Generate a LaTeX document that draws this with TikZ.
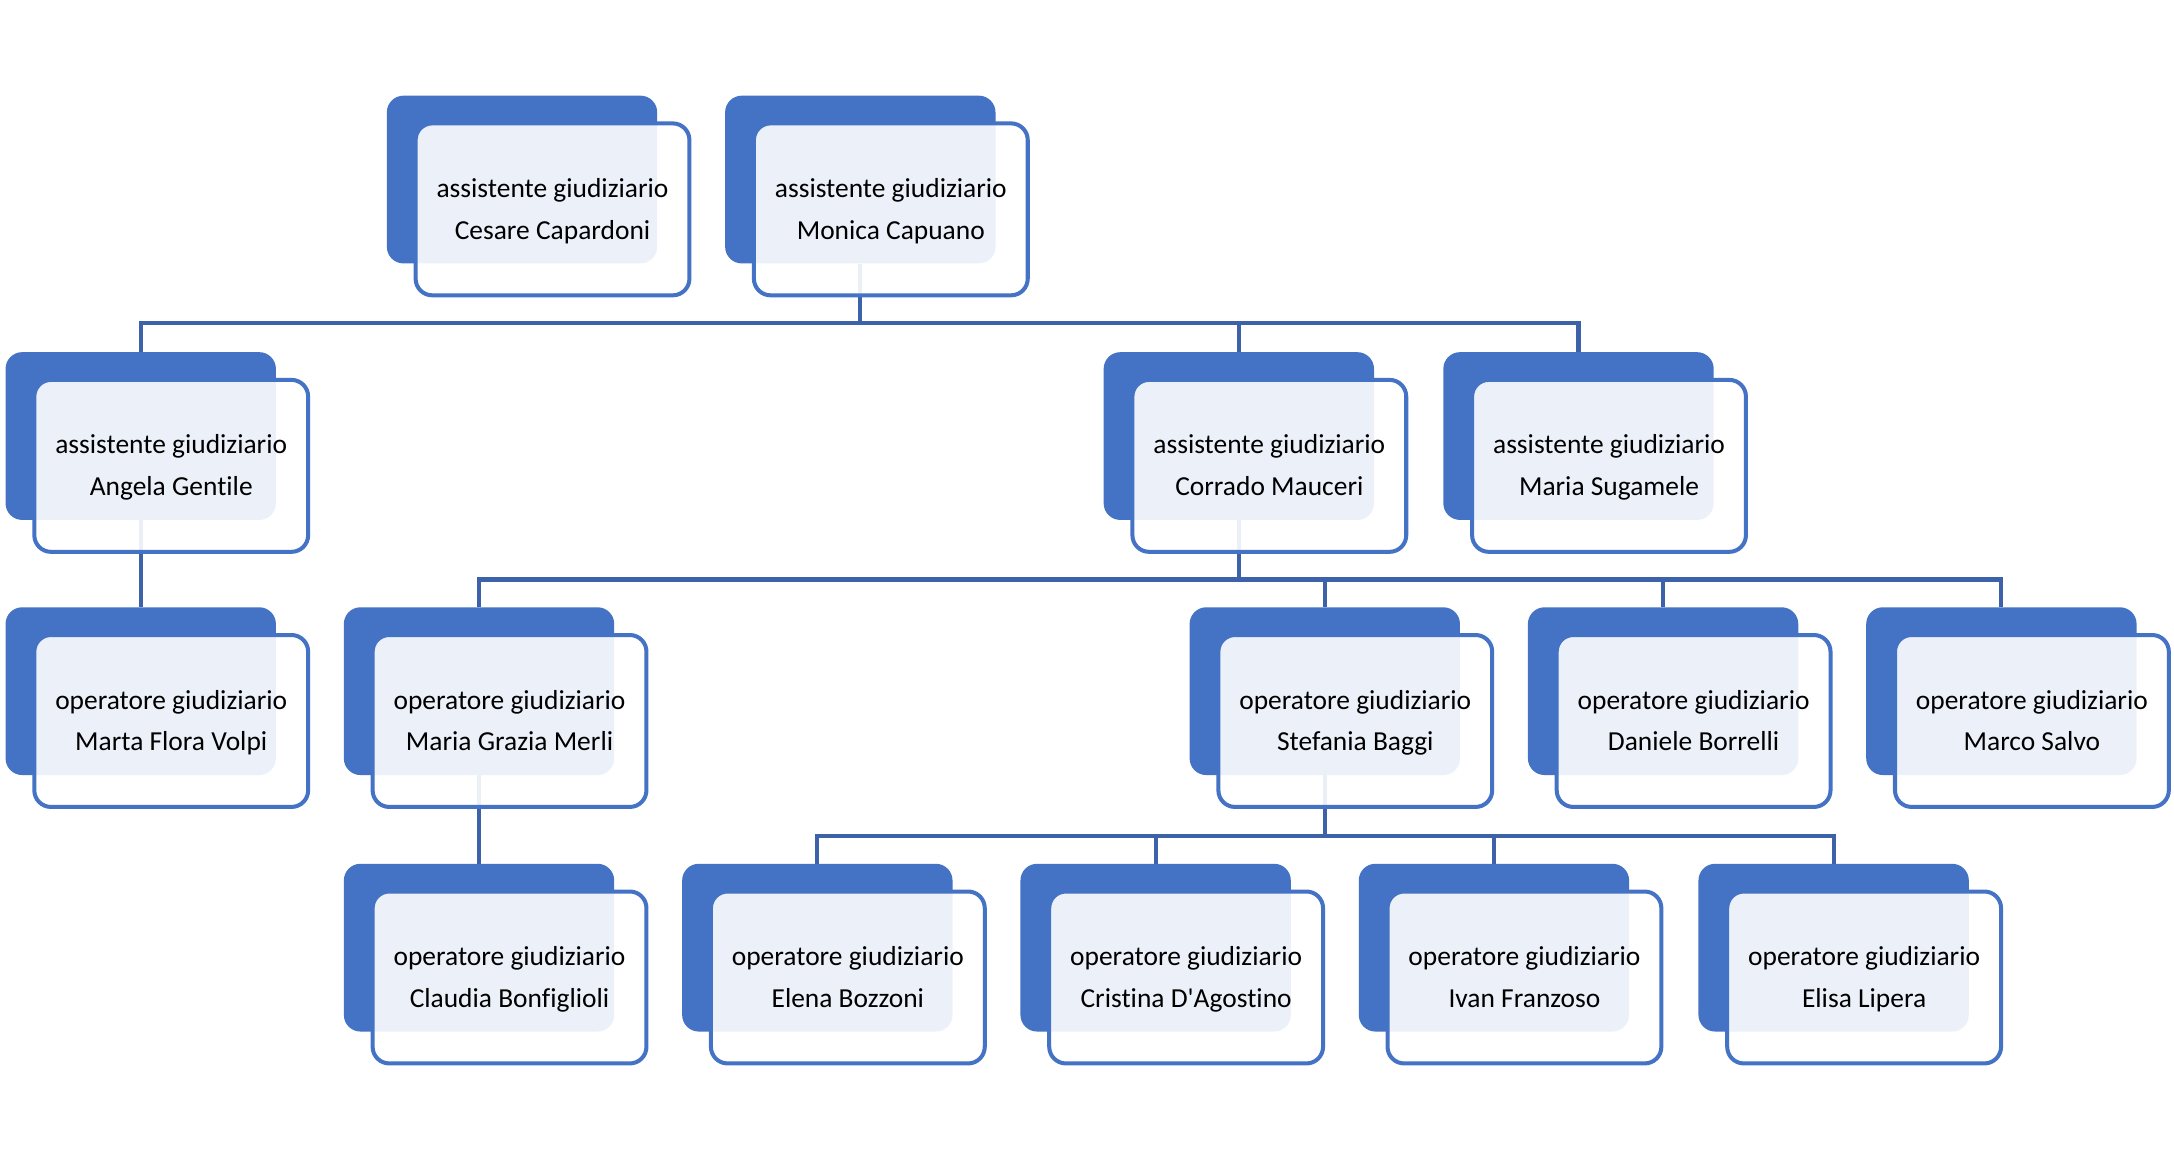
\documentclass[tikz,border=0pt]{standalone}
\usepackage{fontspec}
\setmainfont{Carlito}[Ligatures=NoCommon]
\usetikzlibrary{backgrounds}
\definecolor{accent}{RGB}{68,114,196}
\definecolor{conn}{RGB}{61,98,170}
\tikzset{
  backbox/.style={rectangle, rounded corners=12pt, fill=accent, minimum width=195pt, minimum height=121pt, inner sep=0pt},
  frontbox/.style={rectangle, rounded corners=12pt, draw=accent, line width=2.9pt, fill=white, fill opacity=0.9, text opacity=1, minimum width=197.5pt, minimum height=124pt, inner sep=0pt, align=center, font=\fontsize{19.8}{30}\selectfont, text=black},
  link/.style={draw=conn, line width=3pt}
}
\newcommand\upstrut{\rule{0pt}{20pt}}
\newcommand\downstrut{\rule[-7.2pt]{0pt}{7.2pt}}
\newcommand\orgunit[5]{%
  \node[backbox] (#1B) at ({#2+97.5},{#3+60.5}) {};
  \node[frontbox] (#1F) at ({#2+119.5},{#3+82}) {\upstrut#4\\#5\downstrut};
}
\begin{document}
\begin{tikzpicture}[x=1pt,y=-1pt]
\useasboundingbox (0,0) rectangle (1568,835.25);
% row 1
\orgunit{ces}{279}{69}{assistente giudiziario}{Cesare Capardoni}
\orgunit{mon}{523}{69}{assistente giudiziario}{Monica Capuano}
% row 2
\orgunit{ang}{4}{254}{assistente giudiziario}{Angela Gentile}
\orgunit{cor}{796}{254}{assistente giudiziario}{Corrado Mauceri}
\orgunit{sug}{1041}{254}{assistente giudiziario}{Maria Sugamele}
% row 3
\orgunit{mar}{4}{438}{operatore giudiziario}{Marta Flora Volpi}
\orgunit{mgm}{248}{438}{operatore giudiziario}{Maria Grazia Merli}
\orgunit{sba}{858}{438}{operatore giudiziario}{Stefania Baggi}
\orgunit{bor}{1102}{438}{operatore giudiziario}{Daniele Borrelli}
\orgunit{sal}{1346}{438}{operatore giudiziario}{Marco Salvo}
% row 4
\orgunit{clb}{248}{623}{operatore giudiziario}{Claudia Bonfiglioli}
\orgunit{boz}{492}{623}{operatore giudiziario}{Elena Bozzoni}
\orgunit{dag}{736}{623}{operatore giudiziario}{Cristina D\textquotesingle Agostino}
\orgunit{fra}{980}{623}{operatore giudiziario}{Ivan Franzoso}
\orgunit{lip}{1225}{623}{operatore giudiziario}{Elisa Lipera}
\coordinate (bus1) at (0,233);
\coordinate (bus2) at (0,418);
\coordinate (bus3) at (0,603);
\begin{pgfonlayer}{background}
  \fill[white] (0,0) rectangle (1568,835.25);
  \draw[link] (monB.south) -- (monB.south |- bus1);
  \draw[link] (angB.north) -- (angB.north |- bus1) -| (sugB.north);
  \draw[link] (corB.north) -- (corB.north |- bus1);
  \draw[link] (angB.south) -- (marB.north);
  \draw[link] (corB.south) -- (corB.south |- bus2);
  \draw[link] (mgmB.north) -- (mgmB.north |- bus2) -| (salB.north);
  \draw[link] (sbaB.north) -- (sbaB.north |- bus2);
  \draw[link] (borB.north) -- (borB.north |- bus2);
  \draw[link] (mgmB.south) -- (clbB.north);
  \draw[link] (sbaB.south) -- (sbaB.south |- bus3);
  \draw[link] (bozB.north) -- (bozB.north |- bus3) -| (lipB.north);
  \draw[link] (dagB.north) -- (dagB.north |- bus3);
  \draw[link] (fraB.north) -- (fraB.north |- bus3);
\end{pgfonlayer}
\end{tikzpicture}
\end{document}
